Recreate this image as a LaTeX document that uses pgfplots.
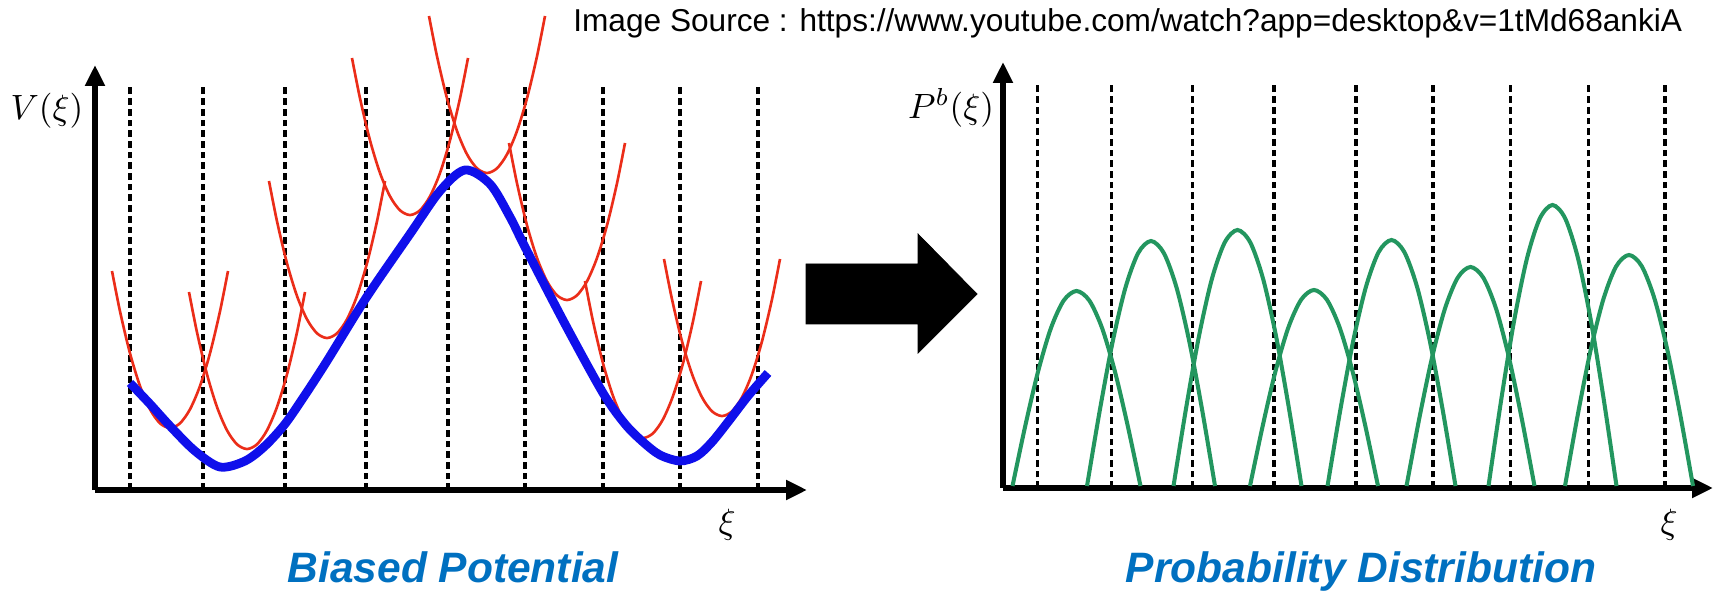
\documentclass[border=0pt]{standalone}
\usepackage{graphicx}
\usepackage{pgfplots}
\pgfplotsset{compat=1.18}
\usetikzlibrary{arrows.meta}
\usepackage{fontspec}
\newfontfamily\arial{Liberation Sans}
\definecolor{redc}{RGB}{235,45,25}
\definecolor{bluec}{RGB}{15,15,235}
\definecolor{greenc}{RGB}{35,150,95}
\definecolor{titleblue}{RGB}{0,112,192}
\pgfplotsset{
  panel/.style={
    x=0.02cm, y=0.02cm, anchor=south west,
    axis lines=left,
    axis line style={line width=3.4pt, -{Triangle[length=0.42cm,width=0.38cm]}},
    xtick=\empty, ytick=\empty, clip=false,
  },
  dashv/.style={black, line width=2pt, dash pattern=on 0.134cm off 0.08cm, mark=none},
  redp/.style={redc, line width=1.5pt, smooth, mark=none},
  greenp/.style={greenc, line width=2.3pt, smooth, mark=none},
}
\begin{document}
\begin{tikzpicture}
% ---------------- left panel ----------------
\begin{axis}[panel, at={(95*0.02cm,102*0.02cm)}, xmin=95, xmax=807, ymin=102, ymax=527]
\foreach \xx in {130,203,285,366,448,525,603,680,758}{
  \edef\tmp{\noexpand\addplot[dashv] coordinates {(\xx,102) (\xx,506)};}\tmp
}
% red parabolas
\addplot[redp] coordinates {(112,321) (120,280.7) (130,238.7) (140,206) (150,182.7) (160,168.7) (170,164) (180,168.7) (190,182.7) (200,206) (210,238.7) (220,280.7) (228,321)};
\addplot[redp] coordinates {(189,300) (197,259.7) (207,217.7) (217,185) (227,161.7) (237,147.7) (247,143) (257,147.7) (267,161.7) (277,185) (287,217.7) (297,259.7) (305,300)};
\addplot[redp] coordinates {(269,411) (277,370.7) (287,328.7) (297,296) (307,272.7) (317,258.7) (327,254) (337,258.7) (347,272.7) (357,296) (367,328.7) (377,370.7) (385,411)};
\addplot[redp] coordinates {(352,534) (360,493.7) (370,451.7) (380,419) (390,395.7) (400,381.7) (410,377) (420,381.7) (430,395.7) (440,419) (450,451.7) (460,493.7) (468,534)};
\addplot[redp] coordinates {(429,576) (437,535.7) (447,493.7) (457,461) (467,437.7) (477,423.7) (487,419) (497,423.7) (507,437.7) (517,461) (527,493.7) (537,535.7) (545,576)};
\addplot[redp] coordinates {(509,449) (517,408.7) (527,366.7) (537,334) (547,310.7) (557,296.7) (567,292) (577,296.7) (587,310.7) (597,334) (607,366.7) (617,408.7) (625,449)};
\addplot[redp] coordinates {(585,311) (593,270.7) (603,228.7) (613,196) (623,172.7) (633,158.7) (643,154) (653,158.7) (663,172.7) (673,196) (683,228.7) (693,270.7) (701,311)};
\addplot[redp] coordinates {(664,333) (672,292.7) (682,250.7) (692,218) (702,194.7) (712,180.7) (722,176) (732,180.7) (742,194.7) (752,218) (762,250.7) (772,292.7) (780,333)};
% blue potential
\addplot[bluec, line width=5pt, smooth, mark=none] coordinates {(130,209) (150,188) (170,166) (195,141) (220,125) (245,131) (265,146) (285,168) (305,197) (327,231) (366,294) (410,358) (440,401) (465,422) (490,408) (510,375) (525,345) (565,268) (603,199) (625,168) (643,150) (660,137) (680,131) (697,136) (712,150) (728,170) (748,196) (768,219)};
% block arrow between panels
\addplot[black, fill=black, mark=none] coordinates {(806,268) (918,268) (918,239) (977,298) (918,358) (918,328) (806,328)} --cycle;
\node at (axis cs:47,481) {\scalebox{2}{$V(\xi)$}};
\node at (axis cs:727,67) {\scalebox{2}{$\xi$}};
\node[anchor=base] at (axis cs:453,10) {\fontsize{24.2}{28}\selectfont\arial\bfseries\itshape\color{titleblue}Biased Potential};
\end{axis}
% ---------------- right panel ----------------
\begin{axis}[panel, at={(1003*0.02cm,104*0.02cm)}, xmin=1003, xmax=1713, ymin=104, ymax=530]
\foreach \xx in {1037.7,1111.5,1192.5,1274,1356,1432.8,1510.5,1588.7,1665.2}{
  \edef\tmp{\noexpand\addplot[dashv] coordinates {(\xx,104) (\xx,510)};}\tmp
}
\addplot[greenp] coordinates {(1012.5,106) (1025.3,166.3) (1038.1,220.6) (1050.9,263.8) (1063.7,291.5) (1076.5,301) (1089.3,291.5) (1102.1,263.8) (1114.9,220.6) (1127.7,166.3) (1140.5,106)};
\addplot[greenp] coordinates {(1087,106) (1099.8,181.7) (1112.6,250) (1125.4,304.2) (1138.2,339) (1151,351) (1163.8,339) (1176.6,304.2) (1189.4,250) (1202.2,181.7) (1215,106)};
\addplot[greenp] coordinates {(1173.5,106) (1186.3,185.1) (1199.1,256.5) (1211.9,313.1) (1224.7,349.5) (1237.5,362) (1250.3,349.5) (1263.1,313.1) (1275.9,256.5) (1288.7,185.1) (1301.5,106)};
\addplot[greenp] coordinates {(1250,106) (1262.8,166.6) (1275.6,221.2) (1288.4,264.6) (1301.2,292.4) (1314,302) (1326.8,292.4) (1339.6,264.6) (1352.4,221.2) (1365.2,166.6) (1378,106)};
\addplot[greenp] coordinates {(1327.5,106) (1340.3,182) (1353.1,250.6) (1365.9,305) (1378.7,340) (1391.5,352) (1404.3,340) (1417.1,305) (1429.9,250.6) (1442.7,182) (1455.5,106)};
\addplot[greenp] coordinates {(1406.5,106) (1419.3,173.7) (1432.1,234.7) (1444.9,283.2) (1457.7,314.3) (1470.5,325) (1483.3,314.3) (1496.1,283.2) (1508.9,234.7) (1521.7,173.7) (1534.5,106)};
\addplot[greenp] coordinates {(1488.5,106) (1501.3,192.8) (1514.1,271.2) (1526.9,333.3) (1539.7,373.3) (1552.5,387) (1565.3,373.3) (1578.1,333.3) (1590.9,271.2) (1603.7,192.8) (1616.5,106)};
\addplot[greenp] coordinates {(1565,106) (1577.8,177.4) (1590.6,241.8) (1603.4,292.9) (1616.2,325.7) (1629,337) (1641.8,325.7) (1654.6,292.9) (1667.4,241.8) (1680.2,177.4) (1693,106)};
\node at (axis cs:951,484) {\scalebox{2}{$P^{b}(\xi)$}};
\node at (axis cs:1669,67) {\scalebox{2}{$\xi$}};
\node[anchor=base] at (axis cs:1361,10) {\fontsize{24.2}{28}\selectfont\arial\bfseries\itshape\color{titleblue}Probability Distribution};
\end{axis}
\node[anchor=base west, inner sep=0pt] at (573*0.02cm,560*0.02cm) {\fontsize{18}{21}\selectfont\arial Image Source : https://www.youtube.com/watch?app=desktop\&v=1tMd68ankiA};
\pgfresetboundingbox
\path[use as bounding box] (0,0) rectangle (1717*0.02cm,592*0.02cm);
\end{tikzpicture}
\end{document}
